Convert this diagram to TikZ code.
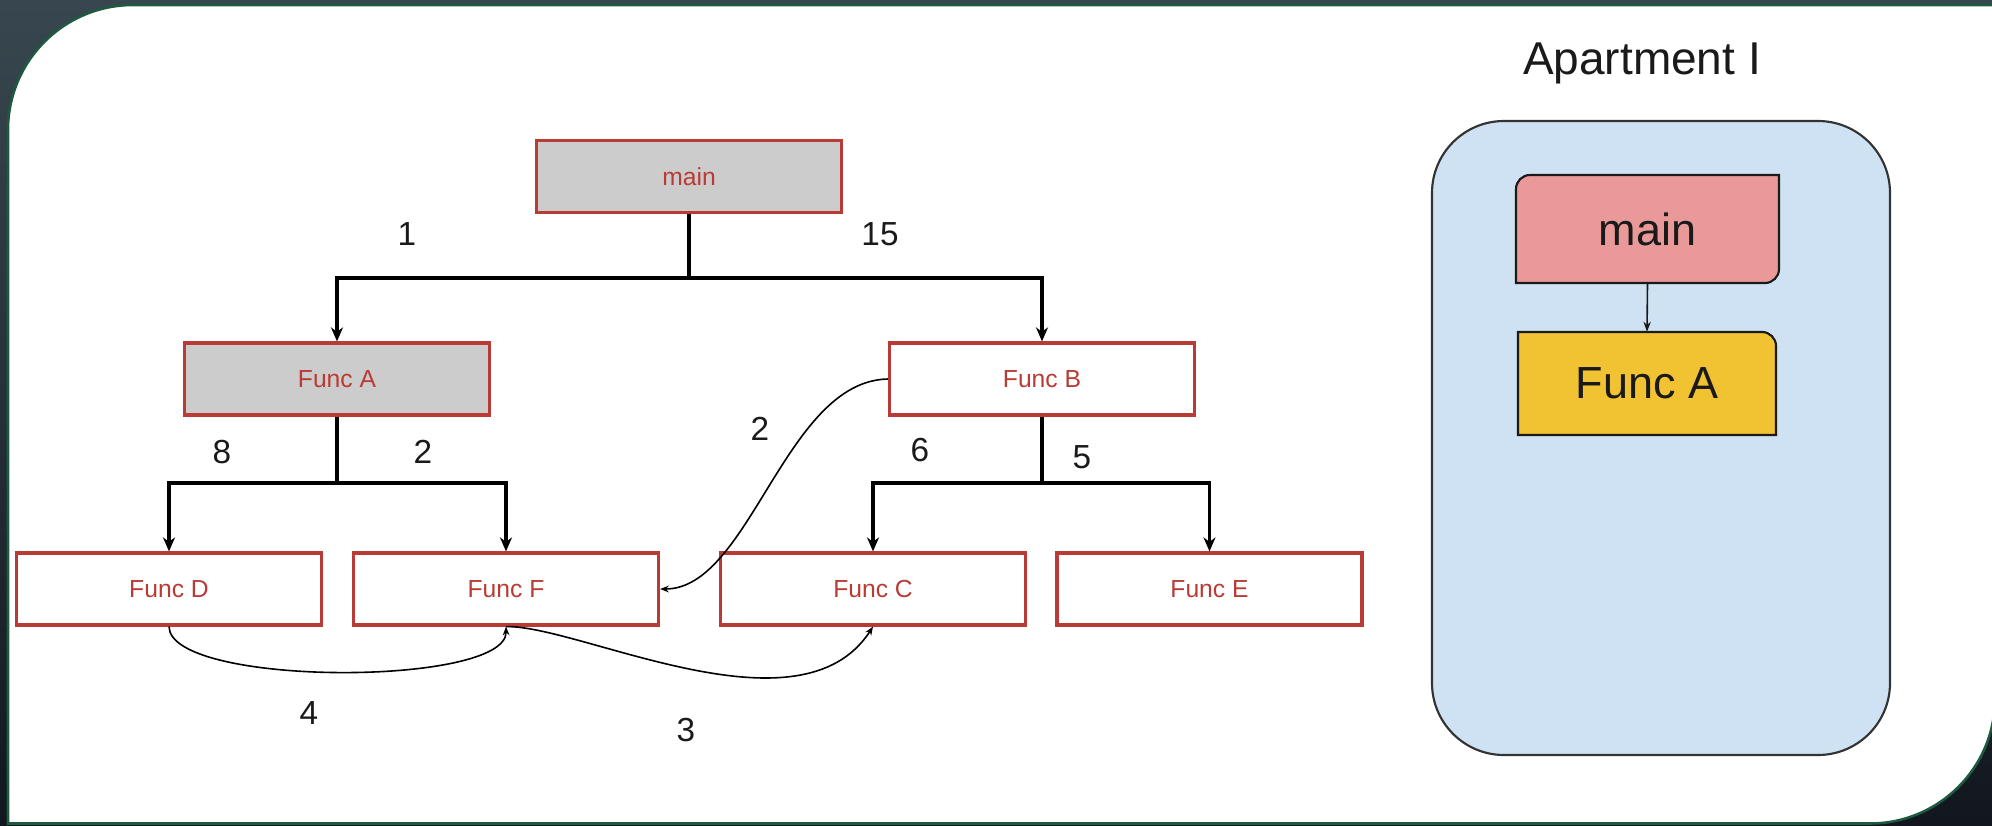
\documentclass[tikz,border=0pt]{standalone}
\usepackage{fontspec}
\setmainfont{Liberation Sans}
\usetikzlibrary{arrows.meta}

\definecolor{slatetop}{HTML}{38474F}
\definecolor{slatebot}{HTML}{12171F}
\definecolor{framegreen}{HTML}{1E5A3E}
\definecolor{fnred}{HTML}{B83C35}
\definecolor{fngray}{HTML}{CCCCCC}
\definecolor{aptblue}{HTML}{CFE2F3}
\definecolor{aptline}{HTML}{333333}
\definecolor{stackpink}{HTML}{EA9999}
\definecolor{stackyellow}{HTML}{F1C232}
\definecolor{ink}{HTML}{1A1A1A}

\tikzset{
  fnbox/.style={draw=fnred, line width=2.4pt, text=fnred, fill=white,
    minimum width=228.75pt, minimum height=54pt, inner sep=0pt,
    font=\fontsize{18.5}{20}\selectfont},
  called/.style={fnbox, fill=fngray},
  num/.style={text=ink, inner sep=0pt, font=\fontsize{25}{28}\selectfont},
  trunk/.style={line width=2.6pt, draw=black},
  tree/.style={trunk, -{Stealth[length=10.5pt,width=9pt]}},
  hop/.style={line width=1.2pt, draw=black, -{Stealth[length=6.5pt,width=5pt]}},
  stackline/.style={draw=ink, line width=1.6pt},
  stacktext/.style={inner sep=0pt, text=ink, font=\fontsize{33.75}{36}\selectfont},
}

\begin{document}
\begin{tikzpicture}[x=0.75pt, y=-0.75pt]
\useasboundingbox (0,0) rectangle (1992,825);
\clip (0,0) rectangle (1992,825);

% slate backdrop and the white sheet with two rounded corners
\shade[top color=slatetop, bottom color=slatebot] (0,0) rectangle (1992,825);
\filldraw[fill=white, draw=framegreen, line width=1.9pt]
  (8,823.5) -- (8,130) arc[start angle=180, end angle=270, radius=125]
  -- (1995,5) -- (1995,698.5) arc[start angle=0, end angle=90, radius=125]
  -- cycle;

% call tree
\node[called] (main) at (689,176.5) {main};
\node[called] (fa) at (337,379) {Func A};
\node[fnbox]  (fb) at (1042,379) {Func B};
\node[fnbox]  (fd) at (169,589) {Func D};
\node[fnbox]  (ff) at (506,589) {Func F};
\node[fnbox]  (fc) at (873,589) {Func C};
\node[fnbox]  (fe) at (1209.5,589) {Func E};

\coordinate (jm) at (689,278);
\coordinate (ja) at (337,483);
\coordinate (jb) at (1042,483);

\draw[trunk] (main.south) -- (jm);
\draw[tree] (jm) -| (fa.north);
\draw[tree] (jm) -| (fb.north);
\draw[trunk] (fa.south) -- (ja);
\draw[tree] (ja) -| (fd.north);
\draw[tree] (ja) -| (ff.north);
\draw[trunk] (fb.south) -- (jb);
\draw[tree] (jb) -| (fc.north);
\draw[tree] (jb) -| (fe.north);

% extra calls between siblings
\draw[hop] (fb.west) .. controls (785,381) and (750,589) .. (ff.east);
\draw[hop] (fd.south) .. controls (170,687) and (507,687) .. (ff.south);
\draw[hop] (ff.south) .. controls (580,625) and (800,740) .. (fc.south);

% call counts
\node[num] (n1)  at (407,234) {1};
\node[num] (n15) at (880,234) {15};
\node[num] (n8)  at (222,452) {8};
\node[num] (n2a) at (423,452) {2};
\node[num] (n2b) at (760,429) {2};
\node[num] (n6)  at (920,450) {6};
\node[num] (n5)  at (1082,457) {5};
\node[num] (n4)  at (309,713) {4};
\node[num] (n3)  at (686,730) {3};

% apartment panel
\node[anchor=base, inner sep=0pt, text=ink, font=\fontsize{34.5}{38}\selectfont]
  (apttitle) at (1642,74) {Apartment I};
\node[draw=aptline, fill=aptblue, line width=1.6pt, rounded corners=54pt,
  minimum width=343.5pt, minimum height=475.5pt] (apt) at (1661,438) {};

% stack frames
\filldraw[fill=stackpink, stackline]
  (1516,283) -- (1516,189) arc[start angle=180, end angle=270, radius=14]
  -- (1779,175) -- (1779,269) arc[start angle=0, end angle=90, radius=14]
  -- cycle;
\node[stacktext, minimum width=197.25pt, minimum height=81pt] (smain) at (1647.5,229) {main};

\filldraw[fill=stackyellow, stackline]
  (1518,435) -- (1518,332) -- (1762,332)
  arc[start angle=270, end angle=360, radius=14]
  -- (1776,435) -- cycle;
\node[stacktext, minimum width=193.5pt, minimum height=77.25pt] (sfa) at (1647,383.5) {Func A};

\draw[stackline, line width=1.2pt, -{Stealth[length=7.5pt,width=5.5pt]}] (smain.south) -- (sfa.north);
\end{tikzpicture}
\end{document}
